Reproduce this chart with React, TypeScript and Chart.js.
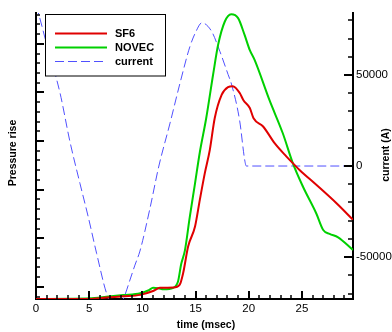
import React, { useEffect, useRef } from 'react';
import { Chart, registerables } from 'chart.js';

Chart.register(...registerables);

// ---------- data ----------
const TIME_SF6 = [0, 5.0, 6.6, 8.2, 9.8, 11.0, 11.65, 12.9, 13.5, 13.83, 14.3, 14.95, 15.4, 15.87, 16.34, 16.8, 17.45, 18.05, 18.5, 19.15, 19.5, 20.1, 20.45, 21.35, 22.45, 23.55, 24.3, 24.8, 26.35, 28.25, 29.8];
const SF6 = [0, 0.0, 0.03, 0.055, 0.085, 0.165, 0.23, 0.235, 0.29, 0.53, 1.08, 1.49, 2.04, 2.59, 3.07, 3.72, 4.2, 4.36, 4.38, 4.24, 4.09, 3.93, 3.72, 3.55, 3.2, 2.93, 2.76, 2.65, 2.35, 1.97, 1.63];

const TIME_NOVEC = [0, 3.0, 5.0, 6.6, 8.2, 9.8, 10.6, 11.0, 11.5, 12.0, 12.9, 13.35, 13.65, 14.0, 14.45, 14.95, 15.4, 16.0, 16.65, 17.12, 17.75, 18.35, 19.0, 19.6, 20.1, 20.55, 21.95, 23.2, 24.15, 25.1, 26.35, 27.0, 27.6, 28.4, 29.8];
const NOVEC = [0, 0.005, 0.015, 0.045, 0.08, 0.12, 0.18, 0.23, 0.22, 0.2, 0.23, 0.36, 0.72, 1.0, 1.68, 2.38, 3.02, 3.72, 4.62, 5.23, 5.71, 5.86, 5.78, 5.44, 5.12, 4.92, 4.09, 3.41, 2.79, 2.31, 1.76, 1.42, 1.34, 1.27, 1.01];

const TIME_CURRENT = [0, 0.22, 1.0, 2.25, 3.19, 4.13, 4.91, 5.7, 6.64, 7.5, 8.29, 8.83, 9.3, 9.77, 10.7, 11.55, 12.58, 13.52, 14.46, 15.02, 15.59, 16.5, 17.28, 18.06, 18.4, 19.15, 19.62, 19.77, 29.8];
const CURRENT = [88000, 84000, 66900, 40300, 13400, -9500, -27900, -48000, -70000, -80000, -71800, -62600, -54400, -46700, -23600, 0, 23100, 45100, 65400, 73600, 78600, 74000, 63000, 50200, 44500, 24700, 3300, 0, 0];

const SERIES_LABELS = ['SF6', 'NOVEC', 'current'];
const X_TICKS = [0, 5, 10, 15, 20, 25];
const CURRENT_TICKS = [-50000, 0, 50000];
const X_TITLE = 'time (msec)';
const Y_TITLE = 'Pressure rise';
const Y2_TITLE = 'current (A)';

const FONT = '"Liberation Sans", Arial, Helvetica, sans-serif';

const toPoints = (xs: number[], ys: number[]) => xs.map((x, i) => ({ x, y: ys[i] }));

const decorations = {
  id: 'decorations',
  afterDatasetsDraw(chart: any) {
    const { ctx } = chart;
    // legend
    ctx.save();
    ctx.fillStyle = '#fff';
    ctx.fillRect(45, 14, 121, 62);
    ctx.strokeStyle = '#000';
    ctx.lineWidth = 1;
    ctx.strokeRect(45.5, 14.5, 120, 61.5);
    chart.data.datasets.forEach((ds: any, i: number) => {
      const y = 33.5 + i * 14;
      ctx.strokeStyle = ds.borderColor;
      ctx.lineWidth = ds.borderWidth;
      ctx.setLineDash(ds.borderDash || []);
      ctx.beginPath();
      ctx.moveTo(55, y);
      ctx.lineTo(107, y);
      ctx.stroke();
      ctx.setLineDash([]);
      ctx.fillStyle = '#000';
      ctx.font = 'bold 11px ' + FONT;
      ctx.textAlign = 'left';
      ctx.textBaseline = 'middle';
      ctx.fillText(ds.label, 115, y + 0.5);
    });
    ctx.restore();
  },
  afterDraw(chart: any) {
    const { ctx, chartArea: a } = chart;
    const sx = chart.scales.x;
    const sy = chart.scales.y;
    const s2 = chart.scales.y2;
    ctx.save();
    ctx.strokeStyle = '#000';
    const seg = (x1: number, y1: number, x2: number, y2: number, w: number) => {
      ctx.lineWidth = w;
      ctx.beginPath();
      ctx.moveTo(x1, y1);
      ctx.lineTo(x2, y2);
      ctx.stroke();
    };
    // x ticks (inward)
    for (let v = 1; v < sx.max; v++) {
      const px = Math.round(sx.getPixelForValue(v));
      const major = v % 5 === 0;
      seg(px, a.bottom, px, a.bottom - (major ? 8 : 4), major ? 2 : 1.5);
    }
    // left ticks
    for (let k = 0; k < 30; k++) {
      const v = 0.05 + 0.2 * k;
      if (v > sy.max) break;
      const py = Math.round(sy.getPixelForValue(v));
      const major = (k - 1) % 5 === 0;
      seg(a.left, py, a.left + (major ? 8 : 4), py, major ? 2 : 1.5);
    }
    // right ticks
    for (let v = -70000; v <= 80000; v += 10000) {
      const py = Math.round(s2.getPixelForValue(v));
      const major = v % 50000 === 0;
      seg(a.right, py, a.right - (major ? 9 : 5), py, major ? 2 : 1.5);
    }
    // axis titles
    ctx.fillStyle = '#000';
    ctx.font = 'bold 10.5px ' + FONT;
    ctx.textAlign = 'center';
    ctx.textBaseline = 'middle';
    ctx.fillText(X_TITLE, 206, 325);
    ctx.save();
    ctx.translate(13, 153);
    ctx.rotate(-Math.PI / 2);
    ctx.fillText(Y_TITLE, 0, 0);
    ctx.restore();
    ctx.save();
    ctx.translate(386, 155);
    ctx.rotate(-Math.PI / 2);
    ctx.fillText(Y2_TITLE, 0, 0);
    ctx.restore();
    ctx.restore();
  },
};

export default function App() {
  const ref = useRef<HTMLCanvasElement | null>(null);
  useEffect(() => {
    if (!ref.current) return;
    Chart.defaults.font.family = FONT;
    const chart = new Chart(ref.current, {
      type: 'line',
      data: {
        datasets: [
          {
            label: SERIES_LABELS[0],
            data: toPoints(TIME_SF6, SF6),
            borderColor: '#e00000',
            borderWidth: 2,
            pointRadius: 0,
            cubicInterpolationMode: 'monotone',
            yAxisID: 'y',
          },
          {
            label: SERIES_LABELS[1],
            data: toPoints(TIME_NOVEC, NOVEC),
            borderColor: '#00d000',
            borderWidth: 2,
            pointRadius: 0,
            cubicInterpolationMode: 'monotone',
            yAxisID: 'y',
          },
          {
            label: SERIES_LABELS[2],
            data: toPoints(TIME_CURRENT, CURRENT),
            borderColor: '#5050ff',
            borderWidth: 1,
            borderDash: [9, 4],
            pointRadius: 0,
            cubicInterpolationMode: 'monotone',
            yAxisID: 'y2',
          },
        ],
      } as any,
      options: {
        animation: false,
        responsive: false,
        parsing: false as any,
        layout: { padding: { top: 13, left: 0, right: 0, bottom: 0 } },
        plugins: { legend: { display: false }, tooltip: { enabled: false } },
        scales: {
          x: {
            type: 'linear',
            min: 0,
            max: 29.8,
            grid: { display: false, drawTicks: false, tickLength: 0 },
            border: { display: true, width: 2, color: '#000' },
            ticks: { color: '#000', font: { size: 11.5 }, padding: 3, maxRotation: 0 },
            afterBuildTicks: (s: any) => {
              s.ticks = X_TICKS.map((v) => ({ value: v }));
            },
            afterFit: (s: any) => {
              s.height = 33;
            },
          },
          y: {
            type: 'linear',
            position: 'left',
            min: 0,
            max: 5.885,
            grid: { display: false, drawTicks: false, tickLength: 0 },
            border: { display: true, width: 2, color: '#000' },
            ticks: { display: false },
            afterFit: (s: any) => {
              s.width = 36;
            },
          },
          y2: {
            type: 'linear',
            position: 'right',
            min: -73000,
            max: 84000,
            grid: { display: false, drawTicks: false, tickLength: 0 },
            border: { display: true, width: 2, color: '#000' },
            ticks: {
              color: '#000',
              font: { size: 11.5 },
              padding: 3,
              callback: (v: any) => String(v),
            },
            afterBuildTicks: (s: any) => {
              s.ticks = CURRENT_TICKS.map((v) => ({ value: v }));
            },
            afterFit: (s: any) => {
              s.width = 39;
            },
          },
        },
      } as any,
      plugins: [decorations],
    });
    return () => chart.destroy();
  }, []);
  return (
    <canvas
      ref={ref}
      width={392}
      height={332}
      style={{ position: 'fixed', left: 0, top: 0, width: 392, height: 332, display: 'block' }}
    />
  );
}
